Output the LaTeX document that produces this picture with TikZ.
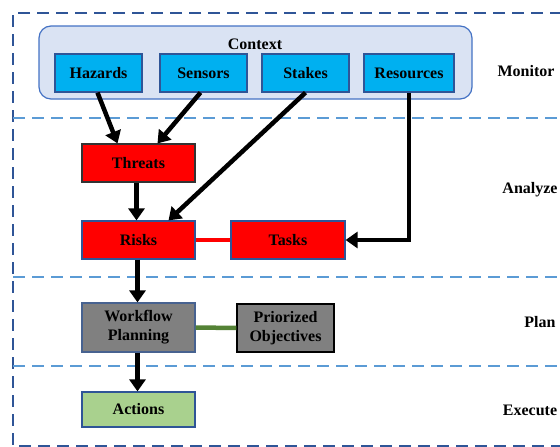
\documentclass[tikz,border=0pt]{standalone}
\usepackage{fontspec}
\setmainfont{Liberation Serif}
\usetikzlibrary{arrows.meta}
\definecolor{darkdash}{HTML}{2F5597}
\definecolor{lightdash}{HTML}{5B9BD5}
\definecolor{ctxfill}{HTML}{DAE3F3}
\definecolor{ctxdraw}{HTML}{4472C4}
\definecolor{cyanbox}{HTML}{00B0F0}
\definecolor{boxblue}{HTML}{2F5597}
\definecolor{greenfill}{HTML}{A9D18E}
\definecolor{greenline}{HTML}{548235}
\tikzset{
  lbl/.style={font=\fontsize{16}{18}\selectfont\bfseries},
  outerdash/.style={draw=darkdash, line width=2pt, dash pattern=on 12pt off 7pt},
  innerdash/.style={draw=lightdash, line width=2pt, dash pattern=on 12pt off 7pt},
  ctxbox/.style={lbl, draw=boxblue, fill=cyanbox, line width=1.2pt, minimum width=87pt, minimum height=38pt, inner sep=0pt},
  redbox/.style={lbl, draw=boxblue, fill=red, line width=1.2pt, minimum width=113pt, minimum height=38pt, inner sep=0pt},
  graybox/.style={lbl, fill=gray, line width=1.2pt, align=center, inner sep=0pt, font=\fontsize{16}{19}\selectfont\bfseries},
  arr/.style={line width=4.5pt, -{Triangle[length=12pt,width=16pt]}},
}
\begin{document}
\begin{tikzpicture}[x=1pt,y=-1pt]
\useasboundingbox (0,0) rectangle (560,447);
% swimlane dashed lines
\coordinate (tl) at (13,13);
\coordinate (tr) at (562,13);
\coordinate (bl) at (13,446);
\coordinate (br) at (562,446);
\coordinate (d1l) at (13,118);
\coordinate (d1r) at (562,118);
\coordinate (d2l) at (13,277);
\coordinate (d2r) at (562,277);
\coordinate (d3l) at (13,366);
\coordinate (d3r) at (562,366);
\draw[outerdash] (tr) -- (tl) -- (bl) -- (br);
\draw[innerdash] (d1l) -- (d1r);
\draw[innerdash] (d2l) -- (d2r);
\draw[innerdash] (d3l) -- (d3r);
% context
\node[draw=ctxdraw, fill=ctxfill, rounded corners=12pt, line width=1.2pt, minimum width=433pt, minimum height=73pt, inner sep=0pt] (ctx) at (255.5,62.5) {};
\node[lbl] (ctxlbl) at (255,44) {Context};
\node[ctxbox] (haz) at (98.5,73) {Hazards};
\node[ctxbox] (sen) at (203.5,73) {Sensors};
\node[ctxbox] (stk) at (305.5,73) {Stakes};
\node[ctxbox, minimum width=90pt] (res) at (409,73) {Resources};
% analyze
\node[redbox, draw=black!80] (thr) at (138.5,163) {Threats};
\node[redbox] (risk) at (138.5,240) {Risks};
\node[redbox, minimum width=114pt] (task) at (288,240) {Tasks};
% plan
\node[graybox, draw=boxblue!70!gray, minimum width=113pt, minimum height=49pt] (wf) at (138.5,327.5) {Workflow\\Planning};
\node[graybox, draw=black, minimum width=97pt, minimum height=48pt] (obj) at (285.5,328) {Priorized\\Objectives};
% execute
\node[lbl, draw=boxblue, fill=greenfill, line width=1.2pt, minimum width=113pt, minimum height=35pt, inner sep=0pt] (act) at (138.5,409.5) {Actions};
% phase labels
\node[lbl] (mon) at (526,71) {Monitor};
\node[lbl] (ana) at (530,190) {Analyze};
\node[lbl] (pln) at (540,322) {Plan};
\node[lbl] (exe) at (530,410) {Execute};
% connectors
\draw[arr] ([xshift=-1pt]haz.south) -- ([xshift=-21pt]thr.north);
\draw[arr] ([xshift=-3pt]sen.south) -- ([xshift=19pt]thr.north);
\draw[arr] (stk.south) -- ([xshift=30pt]risk.north);
\draw[arr] ([xshift=-2pt]thr.south) -- ([xshift=-2pt]risk.north);
\draw[arr] (res.south) |- (task.east);
\draw[line width=4pt, red] (risk.east) -- (task.west);
\draw[arr] ([xshift=-1pt]risk.south) -- ([xshift=-1pt]wf.north);
\draw[line width=4.5pt, greenline] (wf.east) -- (obj.west);
\draw[arr] ([xshift=-1pt]wf.south) -- ([xshift=-1pt]act.north);
\end{tikzpicture}
\end{document}
